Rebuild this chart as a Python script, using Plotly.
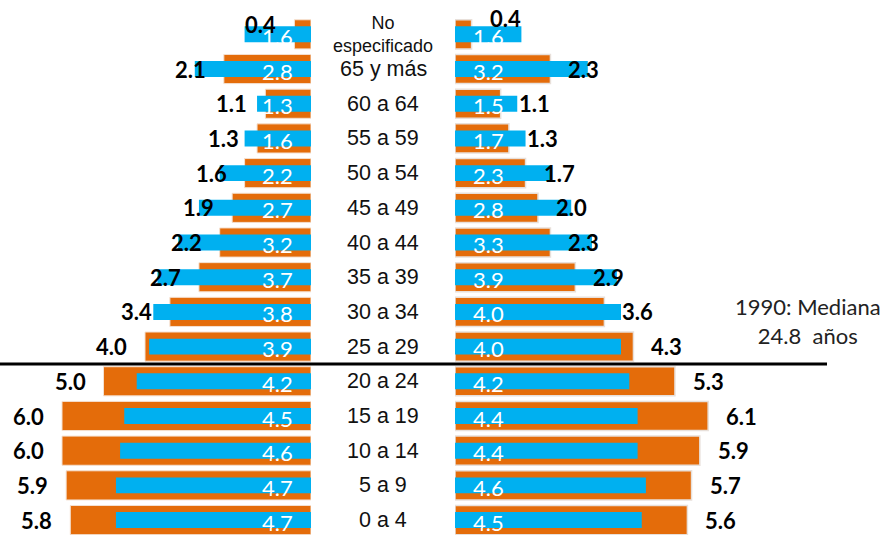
import plotly.graph_objects as go

# Data (top to bottom as shown)
categories = ["No especificado", "65 y más", "60 a 64", "55 a 59", "50 a 54", "45 a 49",
              "40 a 44", "35 a 39", "30 a 34", "25 a 29", "20 a 24", "15 a 19",
              "10 a 14", "5 a 9", "0 a 4"]
hombres_1990 = [0.4, 2.1, 1.1, 1.3, 1.6, 1.9, 2.2, 2.7, 3.4, 4.0, 5.0, 6.0, 6.0, 5.9, 5.8]
hombres_actual = [1.6, 2.8, 1.3, 1.6, 2.2, 2.7, 3.2, 3.7, 3.8, 3.9, 4.2, 4.5, 4.6, 4.7, 4.7]
mujeres_1990 = [0.4, 2.3, 1.1, 1.3, 1.7, 2.0, 2.3, 2.9, 3.6, 4.3, 5.3, 6.1, 5.9, 5.7, 5.6]
mujeres_actual = [1.6, 3.2, 1.5, 1.7, 2.3, 2.8, 3.3, 3.9, 4.0, 4.0, 4.2, 4.4, 4.4, 4.6, 4.5]
mediana_text = "1990: Mediana<br>24.8  años"

ORANGE = "#E46C0A"
BLUE = "#00B0F0"
W, H = 883, 535
PX_PER_UNIT = 41.5
LEFT_END = 311
RIGHT_START = 455

fig = go.Figure()
fig.add_trace(go.Bar(y=categories, x=hombres_1990, orientation="h", xaxis="x", yaxis="y",
                     marker=dict(color=ORANGE, line=dict(color="#f4e0d0", width=1)), width=0.84,
                     showlegend=False, hoverinfo="skip"))
fig.add_trace(go.Bar(y=categories, x=mujeres_1990, orientation="h", xaxis="x2", yaxis="y",
                     marker=dict(color=ORANGE, line=dict(color="#e8e0da", width=1.5)), width=0.84,
                     showlegend=False, hoverinfo="skip"))
fig.add_trace(go.Bar(y=categories, x=hombres_actual, orientation="h", xaxis="x", yaxis="y",
                     marker=dict(color=BLUE, line=dict(width=0)), width=0.46,
                     showlegend=False, hoverinfo="skip"))
fig.add_trace(go.Bar(y=categories, x=mujeres_actual, orientation="h", xaxis="x2", yaxis="y",
                     marker=dict(color=BLUE, line=dict(width=0)), width=0.46,
                     showlegend=False, hoverinfo="skip"))

annotations = []
num_font_bold = dict(family="Lato", size=22, color="black")
num_font_white = dict(family="Lato", size=22, color="white")
for cat, ho, ha, mo, ma in zip(categories, hombres_1990, hombres_actual, mujeres_1990, mujeres_actual):
    ys = 10 if cat == "No especificado" else 0
    annotations.append(dict(x=ho, y=cat, xref="x", yref="y", text=f"<b>{ho:.1f}</b>",
                            showarrow=False, xanchor="right", xshift=-16, yshift=ys, font=num_font_bold))
    annotations.append(dict(x=mo, y=cat, xref="x2", yref="y", text=f"<b>{mo:.1f}</b>",
                            showarrow=False, xanchor="left", xshift=16, yshift=ys + (6 if ys else 0),
                            font=num_font_bold))
    annotations.append(dict(x=0, y=cat, xref="x", yref="y", text=f"{ha:.1f}",
                            showarrow=False, xanchor="right", xshift=-16, yshift=-2, font=num_font_white))
    annotations.append(dict(x=0, y=cat, xref="x2", yref="y", text=f"{ma:.1f}",
                            showarrow=False, xanchor="left", xshift=16, yshift=-2, font=num_font_white))
    if cat == "No especificado":
        annotations.append(dict(x=383 / W, y=cat, xref="paper", yref="y", text="No<br>especificado",
                                showarrow=False, xanchor="center",
                                font=dict(family="Liberation Sans", size=18, color="#111")))
    else:
        annotations.append(dict(x=383 / W, y=cat, xref="paper", yref="y", text=cat,
                                showarrow=False, xanchor="center",
                                font=dict(family="Liberation Sans", size=21.5, color="#111")))

annotations.append(dict(x=808 / W, y=1 - 321 / H, xref="paper", yref="paper", yanchor="middle",
                        text=mediana_text, showarrow=False, xanchor="center", align="center",
                        font=dict(family="Lato", size=22, color="#222")))

fig.update_layout(
    width=W, height=H,
    margin=dict(l=0, r=0, t=0, b=0),
    paper_bgcolor="white", plot_bgcolor="rgba(0,0,0,0)",
    barmode="overlay",
    xaxis=dict(domain=[0, LEFT_END / W], range=[LEFT_END / PX_PER_UNIT, 0], visible=False, fixedrange=True),
    xaxis2=dict(domain=[RIGHT_START / W, 1], range=[0, (W - RIGHT_START) / PX_PER_UNIT], visible=False,
                anchor="y", fixedrange=True),
    yaxis=dict(categoryorder="array", categoryarray=categories[::-1], range=[-0.43, 14.99],
               visible=False, fixedrange=True),
    annotations=annotations,
    shapes=[dict(type="line", xref="paper", yref="y", x0=0, x1=827 / W, y0=4.5, y1=4.5,
                 line=dict(color="black", width=3), layer="below")],
)

fig.write_html("out.html", config={"displayModeBar": False},
               post_script="document.body.style.margin='0';document.body.style.overflow='hidden';")
